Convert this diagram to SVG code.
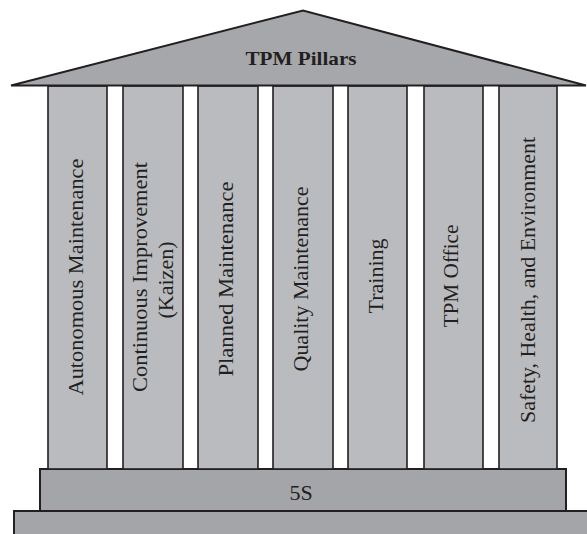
<svg xmlns="http://www.w3.org/2000/svg" width="587" height="534" viewBox="0 0 587 534">
  <style>
    .roof { fill: #a6a7aa; stroke: #231f20; stroke-width: 2; stroke-linejoin: miter; }
    .pillar { fill: #babbbf; stroke: #231f20; stroke-width: 1.6; }
    .step { fill: #a4a5a8; stroke: #231f20; stroke-width: 2; }
    .lbl { font-family: "Liberation Serif", "Times New Roman", serif; font-size: 22px; fill: #231f20; text-anchor: middle; }
    .title { font-family: "Liberation Serif", "Times New Roman", serif; font-size: 19px; font-weight: bold; fill: #231f20; text-anchor: middle; }
  </style>

  <rect width="587" height="534" fill="#ffffff"/>

  <!-- foundation steps -->
  <g id="base">
    <rect class="step" x="14" y="511" width="590" height="40"/>
  </g>
  <g id="fiveS">
    <rect class="step" x="40" y="469" width="526" height="42"/>
    <text class="lbl" x="301" y="500" font-size="21">5S</text>
  </g>

  <!-- pillars -->
  <g id="pillar-autonomous">
    <rect class="pillar" x="48" y="86" width="59" height="383"/>
    <text class="lbl" transform="translate(83 277) rotate(-90)" textLength="237" lengthAdjust="spacingAndGlyphs">Autonomous Maintenance</text>
  </g>
  <g id="pillar-kaizen">
    <rect class="pillar" x="123" y="86" width="60" height="383"/>
    <text class="lbl" transform="translate(147 277) rotate(-90)" textLength="230" lengthAdjust="spacingAndGlyphs">Continuous Improvement</text>
    <text class="lbl" transform="translate(173 280) rotate(-90)">(Kaizen)</text>
  </g>
  <g id="pillar-planned">
    <rect class="pillar" x="198" y="86" width="60" height="383"/>
    <text class="lbl" transform="translate(233 279) rotate(-90)" textLength="195" lengthAdjust="spacingAndGlyphs">Planned Maintenance</text>
  </g>
  <g id="pillar-quality">
    <rect class="pillar" x="273" y="86" width="60" height="383"/>
    <text class="lbl" transform="translate(308 279) rotate(-90)" textLength="185" lengthAdjust="spacingAndGlyphs">Quality Maintenance</text>
  </g>
  <g id="pillar-training">
    <rect class="pillar" x="348" y="86" width="59" height="383"/>
    <text class="lbl" transform="translate(383 276) rotate(-90)" textLength="75" lengthAdjust="spacingAndGlyphs">Training</text>
  </g>
  <g id="pillar-office">
    <rect class="pillar" x="424" y="86" width="59" height="383"/>
    <text class="lbl" transform="translate(458 276) rotate(-90)" textLength="103" lengthAdjust="spacingAndGlyphs">TPM Office</text>
  </g>
  <g id="pillar-safety">
    <rect class="pillar" x="499" y="86" width="58" height="383"/>
    <text class="lbl" transform="translate(535 280) rotate(-90)" textLength="286" lengthAdjust="spacingAndGlyphs">Safety, Health, and Environment</text>
  </g>

  <!-- roof -->
  <g id="roof">
    <polygon class="roof" points="11,85.5 303,10.5 586,85.5"/>
    <text class="title" x="301" y="65" textLength="111" lengthAdjust="spacingAndGlyphs">TPM Pillars</text>
  </g>

  <g id="connectors"></g>
</svg>
